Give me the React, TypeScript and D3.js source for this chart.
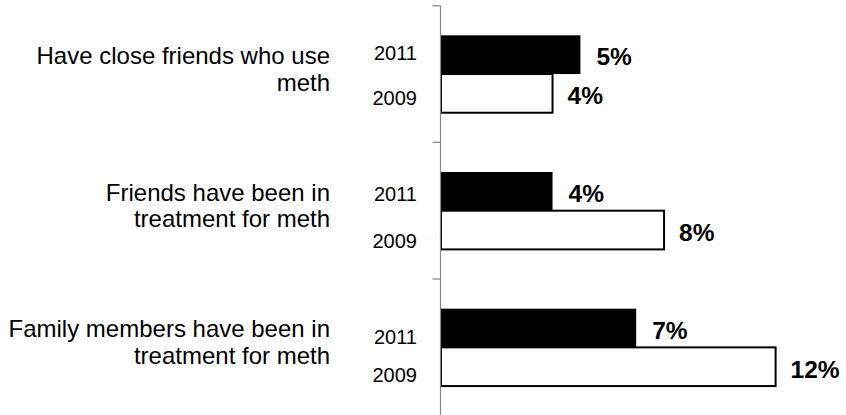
import React from "react";
import * as d3 from "d3";

const categories = [
  ["Have close friends who use", "meth"],
  ["Friends have been in", "treatment for meth"],
  ["Family members have been in", "treatment for meth"],
];
const years = ["2011", "2009"];
const values2011 = [5, 4, 7];
const values2009 = [4, 8, 12];
const valueLabels2011 = ["5%", "4%", "7%"];
const valueLabels2009 = ["4%", "8%", "12%"];

// layout nudges for the year labels (px), per category
const yearNudge2011 = [-21, -17, -10];
const yearNudge2009 = [24, 30, 28];

const W = 846;
const H = 415;

export default function App() {
  const x = d3.scaleLinear().domain([0, 12]).range([441, 775.6]);
  const y = d3
    .scaleBand<number>()
    .domain(d3.range(categories.length))
    .range([5.7, 415.7])
    .padding(0);
  const barH = 38.7;
  const pairH = barH * 2;
  const inner = d3
    .scaleBand<string>()
    .domain(years)
    .range([(y.bandwidth() - pairH) / 2, (y.bandwidth() + pairH) / 2])
    .padding(0);

  const font = "'Liberation Sans', Arial, sans-serif";
  const tickYs = d3.range(categories.length + 1).map((i) => 5.7 + i * y.step());

  return (
    <svg
      width={W}
      height={H}
      style={{ position: "absolute", left: 0, top: 0, background: "#fff" }}
      fontFamily={font}
    >
      {categories.map((cat, i) => {
        const band = y(i)!;
        const c = band + y.bandwidth() / 2;
        const y11 = band + inner("2011")!;
        const y09 = band + inner("2009")!;
        return (
          <g key={i}>
            <rect
              x={x(0)}
              y={y09}
              width={x(values2009[i]) - x(0)}
              height={barH}
              fill="#fff"
              stroke="#000"
              strokeWidth={2}
            />
            <rect
              x={x(0)}
              y={y11}
              width={x(values2011[i]) - x(0)}
              height={barH}
              fill="#000"
            />
            <text
              x={x(values2011[i]) + 16}
              y={y11 + barH / 2 + 2}
              dominantBaseline="central"
              fontWeight="bold"
              fontSize={24.5}
              fill="#000"
            >
              {valueLabels2011[i]}
            </text>
            <text
              x={x(values2009[i]) + 15}
              y={y09 + barH / 2 + 2.5}
              dominantBaseline="central"
              fontWeight="bold"
              fontSize={24.5}
              fill="#000"
            >
              {valueLabels2009[i]}
            </text>
            <text
              x={417}
              y={c + yearNudge2011[i]}
              dominantBaseline="central"
              textAnchor="end"
              fontSize={20}
              fill="#000"
            >
              {years[0]}
            </text>
            <text
              x={417}
              y={c + yearNudge2009[i]}
              dominantBaseline="central"
              textAnchor="end"
              fontSize={20}
              fill="#000"
            >
              {years[1]}
            </text>
            {cat.map((line, j) => (
              <text
                key={j}
                x={330}
                y={c - 10 + j * 26.5}
                textAnchor="end"
                fontSize={24}
                fill="#000"
              >
                {line}
              </text>
            ))}
          </g>
        );
      })}
      <line x1={440.5} x2={440.5} y1={5.7} y2={H} stroke="#868686" strokeWidth={1.2} />
      {tickYs.map((t, i) => (
        <line key={i} x1={432.5} x2={440.5} y1={t} y2={t} stroke="#868686" strokeWidth={1.2} />
      ))}
    </svg>
  );
}
